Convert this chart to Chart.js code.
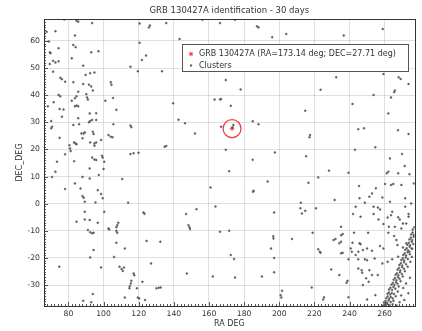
<!DOCTYPE html>
<html>
<head>
<meta charset="utf-8">
<script src="https://cdn.jsdelivr.net/npm/chart.js@4/dist/chart.umd.min.js"></script>
<style>
  html, body { margin: 0; padding: 0; background: #fff; overflow: hidden; }
  canvas { display: block; }
</style>
</head>
<body>
<canvas id="c" width="425" height="331"></canvas>
<script>
// GRB position (degrees)
const grbName = 'GRB 130427A';
const grbRA = 173.14;
const grbDEC = 27.71;

// Axis ranges and tick steps
const raRange = [66.1, 277.1];
const decRange = [-37.7, 68.1];
const raMajorStep = 20;
const decMajorStep = 10;

// Cluster positions [RA, DEC] in degrees
const clustersWest = [
  [77.6,67.9],[84.6,67.5],[85.6,67.1],[93.5,66.6],[67.6,63.4],[72.6,63.6],[83.7,62.0],[68.9,59.8],
  [82.8,58.5],[84.1,57.7],[74.4,57.3],[69.4,55.8],[69.8,55.5],[93.0,55.8],[97.1,56.2],[81.9,53.6],
  [71.3,52.7],[72.6,52.1],[74.4,52.5],[69.4,51.5],[88.4,50.9],[71.3,48.7],[89.8,47.5],[92.4,48.1],
  [94.8,48.4],[75.4,46.4],[76.3,45.9],[78.1,45.0],[82.8,44.8],[88.4,44.1],[91.7,43.9],[93.0,43.2],
  [104.1,44.8],[104.5,43.9],[93.9,41.7],[74.4,40.1],[75.4,39.6],[85.6,41.3],[84.6,39.6],[83.7,38.9],
  [90.2,40.4],[90.6,39.2],[91.1,38.4],[81.9,38.0],[71.6,37.4],[68.3,35.9],[83.7,35.9],[84.6,36.2],
  [85.6,35.9],[75.0,34.9],[77.2,34.7],[92.1,33.3],[95.8,33.4],[101.0,38.0],[105.4,39.0],[107.3,34.6],
  [115.3,50.5],[119.5,48.8],[120.5,59.3],[120.5,66.4],[121.8,53.0],[124.2,54.6],[126.4,65.7],[125.8,65.0],
  [135.7,66.6],[133.3,48.8],
  [76.3,32.1],[85.6,31.5],[91.7,30.0],[92.4,30.5],[93.5,30.9],[95.8,30.9],[82.8,29.0],[86.1,29.3],
  [70.2,30.5],[70.7,28.4],[70.2,27.8],[105.6,29.3],[115.3,28.8],[115.8,28.2],[75.0,24.3],[87.4,25.9],
  [88.7,25.9],[89.3,26.3],[93.9,26.5],[94.3,25.7],[88.0,24.1],[102.8,25.3],[104.1,24.7],[105.1,24.5],
  [83.2,22.6],[84.1,22.2],[84.6,21.9],[92.4,22.6],[94.8,22.2],[95.8,22.6],[94.8,21.4],[98.6,23.5],
  [80.6,21.6],[80.9,20.4],[81.3,19.4],[78.1,18.2],[93.5,17.0],[94.8,16.3],[95.8,16.1],[99.1,17.7],
  [99.5,17.0],[115.3,18.3],[117.1,18.6],[119.9,18.8],[134.8,21.0],[135.7,21.3],[73.5,15.5],[83.3,15.7],
  [100.4,15.5],[100.0,12.8],[92.1,13.0],[72.6,11.8],[70.7,9.9],[88.0,9.9],[92.1,9.3],[97.3,10.6],
  [110.6,9.1],[83.7,7.5],[86.9,5.6],[78.1,5.4],[96.7,5.0],[88.0,2.8],[88.7,2.2],[98.6,3.6],
  [99.5,2.0],[89.3,0.7],[95.4,0.5],[114.0,0.4],[89.3,-3.0],[100.4,-3.0],[122.7,-3.2],[123.3,-3.7],
  [84.6,-6.6],[89.3,-5.8],[92.1,-6.0],[96.7,-7.0],[108.4,-7.0],[107.8,-7.9],[107.3,-8.7],[102.8,-9.1],
  [103.2,-9.5],[91.1,-9.7],[92.4,-10.5],[93.5,-10.9],[94.3,-10.7],[107.3,-10.0],[107.8,-10.7],[124.5,-13.7],
  [132.3,-14.0],[107.3,-14.4],[94.3,-17.1],[112.1,-16.5],[92.4,-19.8],[106.0,-19.6],[74.8,-23.2],[98.6,-23.5],
  [109.1,-23.2],[110.3,-24.1],[111.0,-24.8],[111.6,-23.5],[127.0,-22.0],[117.1,-25.7],[117.5,-26.4],[115.8,-28.4],
  [115.5,-29.4],[114.9,-30.4],[122.1,-28.8],[114.7,-31.2],[119.0,-31.2],[130.1,-31.2],[131.4,-31.0],[132.5,-30.9],
  [93.9,-33.3],[88.4,-35.8],[93.0,-36.3],[112.1,-34.6],[119.5,-34.6],[120.3,-34.9],[123.6,-35.5]
];

const clustersCentral = [
  [156.3,67.8],[166.3,66.6],[174.8,67.8],[187.3,65.4],[188.2,65.0],[196.0,61.4],[204.0,62.6],[143.3,60.7],
  [169.6,45.6],[178.0,42.1],[139.6,37.0],[163.2,38.4],[166.3,38.4],[166.9,38.6],[172.4,36.1],[142.7,31.0],
  [146.4,29.7],[166.9,28.4],[173.9,29.0],[173.4,28.1],[184.9,30.4],[188.2,29.3],[152.0,25.9],[169.6,19.9],
  [197.5,18.9],[184.9,16.2],[171.5,12.0],[193.4,8.2],[160.9,6.0],[185.4,4.8],[185.1,4.4],[163.7,-1.0],
  [152.9,-2.0],[147.0,-3.8],[148.3,-7.9],[148.9,-8.7],[149.2,-9.3],[197.1,-3.2],[166.3,-10.3],[171.5,-10.0],
  [196.6,-12.0],[196.7,-12.8],[207.3,-13.0],[195.3,-16.5],[172.4,-18.9],[174.3,-20.4],[197.1,-20.0],[147.4,-25.7],
  [162.2,-26.8],[174.8,-27.2],[190.1,-26.8],[197.1,-25.3],[201.6,-32.1],[200.8,-33.7],[201.2,-34.6]
];

const clustersEast = [
  [236.7,62.0],[258.9,64.4],[232.4,46.6],[223.5,42.0],[259.3,47.8],[268.0,46.6],[269.1,46.0],[273.6,44.1],
  [265.8,41.7],[265.4,41.1],[253.7,40.1],[263.6,39.2],[241.7,36.8],[214.8,34.3],[262.1,33.3],[245.0,27.5],
  [248.2,27.8],[267.6,27.1],[273.6,25.7],[217.5,25.3],[217.2,24.5],[243.1,19.9],[254.7,20.8],[263.0,16.7],
  [269.9,18.3],[215.3,17.5],
  [228.3,12.2],[239.4,11.4],[222.2,9.7],[216.6,7.7],[262.1,11.8],[261.2,11.2],[271.4,13.9],[267.7,11.2],
  [274.1,10.9],[260.2,7.3],[263.6,6.9],[264.9,7.3],[269.5,6.9],[276.6,7.5],[245.4,6.5],[255.0,5.7],
  [252.8,3.8],[251.3,2.6],[258.7,2.3],[245.7,2.0],[231.5,1.4],[212.3,0.4],[248.7,0.4],[263.0,0.7],
  [271.7,2.0],[275.1,0.1],[212.0,-1.7],[212.9,-3.6],[214.8,-2.6],[220.9,-1.7],[243.5,-1.1],[253.7,-1.1],
  [256.1,-1.4],[257.4,-2.1],[264.3,-3.0],[263.6,-4.2],[271.7,-1.1],[273.6,-3.8],[242.0,-3.8],[246.3,-4.8],
  [253.7,-3.8],[256.5,-5.8],[261.7,-5.1],[267.7,-5.0],[268.6,-5.8],[270.4,-7.3],[272.3,-7.3],[273.6,-4.8],
  [235.2,-8.5],[259.3,-7.5],[262.4,-8.5],[265.8,-8.5],[269.5,-9.1],[219.0,-10.7],[236.1,-11.2],[235.2,-11.6],
  [242.6,-10.7],[250.6,-10.7],[262.1,-10.7],[265.4,-11.9],[266.7,-13.4],[230.9,-13.4],[232.0,-13.0],[234.2,-14.6],
  [235.2,-14.0],[241.7,-14.4],[245.7,-14.6],[246.3,-14.9],[250.0,-16.5],[247.6,-17.1],[245.0,-17.7],[252.8,-17.3],
  [257.4,-15.6],[259.3,-16.5],[267.3,-15.2],[270.4,-16.1],[272.3,-14.6],[222.2,-16.8],[223.1,-17.7],[223.5,-18.1],
  [235.2,-18.3],[236.1,-18.1],[240.7,-16.5],[241.3,-17.7],[243.5,-18.9],[239.4,-20.5],[245.0,-20.5],[248.7,-20.5],
  [250.0,-20.8],[254.3,-20.2],[258.7,-22.0],[261.7,-21.4],[264.3,-20.5],[267.7,-19.5],[229.6,-24.2],[234.2,-26.3],
  [238.9,-28.4],[238.3,-29.1],[245.0,-23.9],[246.9,-24.5],[247.2,-25.4],[251.3,-24.5],[249.5,-27.5],[250.9,-28.8],
  [252.8,-26.3],[256.1,-26.3],[247.6,-30.0],[218.5,-30.9],[225.0,-35.3],[225.5,-34.5],[239.4,-34.5],[250.0,-35.3],
  [254.7,-33.7],[275.4,-16.5],[274.1,-17.7]
];

// Dense group running along the south-east corner
const clustersGalacticBand = [
  [259.0,-37.6],[259.8,-37.2],[260.6,-37.5],[261.5,-37.0],[262.8,-37.4],[264.5,-37.1],[266.8,-37.5],
  [259.6,-36.4],[260.5,-35.9],[261.3,-36.6],[262.2,-35.7],[263.4,-36.2],[265.0,-35.8],[268.5,-36.3],[271.2,-35.5],
  [260.9,-34.8],[261.7,-34.2],[262.6,-35.0],[263.5,-34.4],[264.6,-34.9],[266.3,-34.1],[269.4,-33.8],
  [261.6,-33.2],[262.4,-32.7],[263.2,-33.5],[264.1,-32.9],[265.3,-33.3],[267.5,-32.4],[273.5,-33.0],
  [262.5,-31.6],[263.3,-31.0],[264.2,-31.8],[265.0,-30.7],[266.1,-31.3],[268.0,-30.5],[270.6,-31.1],
  [263.9,-29.8],[264.7,-29.2],[265.5,-30.0],[266.4,-28.9],[267.3,-29.5],[269.1,-28.6],[272.2,-29.4],
  [265.1,-28.0],[265.9,-27.4],[266.7,-28.2],[267.6,-27.1],[268.5,-27.7],[270.3,-26.8],[274.4,-27.3],
  [266.2,-26.2],[267.0,-25.6],[267.8,-26.4],[268.7,-25.3],[269.8,-25.9],[271.5,-24.9],
  [267.3,-24.3],[268.1,-23.7],[268.9,-24.6],[269.9,-23.4],[271.0,-24.0],[273.1,-23.2],
  [268.4,-22.6],[269.2,-21.9],[270.0,-22.8],[271.0,-21.6],[272.2,-22.3],[274.6,-21.4],
  [269.5,-20.7],[270.3,-20.1],[271.1,-20.9],[272.0,-19.8],[273.2,-20.4],[275.5,-19.6],
  [270.6,-18.9],[271.4,-18.3],[272.2,-19.1],[273.1,-17.9],[274.3,-18.6],
  [271.7,-17.0],[272.5,-16.4],[273.3,-17.2],[274.2,-15.9],[275.6,-16.6],
  [272.9,-15.1],[273.7,-14.4],[274.5,-15.3],[275.4,-14.0],[276.3,-14.8],
  [274.1,-13.2],[274.9,-12.5],[275.7,-13.4],[276.5,-12.2],
  [275.1,-11.3],[275.9,-10.6],[276.6,-11.5],
  [276.0,-9.5],[276.8,-8.7]
];

const clusterPoints = clustersWest.concat(clustersCentral, clustersEast, clustersGalacticBand)
  .map(([ra, dec]) => ({ x: ra, y: dec }));

const TEXT = '#333';
const FONT = 'DejaVu Sans';

// Major ticks on round multiples of the step only
function roundTicks(step) {
  return s => {
    const out = [];
    for (let v = Math.ceil(s.min / step) * step; v <= s.max; v += step) out.push({ value: v });
    s.ticks = out;
  };
}

// Frame, minor ticks and the in-plot legend
const framePlugin = {
  id: 'frame',
  afterDraw(chart) {
    const { ctx, chartArea: a, scales: { x, y } } = chart;
    ctx.save();
    ctx.strokeStyle = '#555';
    ctx.lineWidth = 1;
    ctx.beginPath();
    // minor ticks along the DEC axis
    for (let v = Math.ceil(y.min); v <= y.max; v += 1) {
      const py = Math.round(y.getPixelForValue(v)) + 0.5;
      const len = v % decMajorStep === 0 ? 4 : 2;
      ctx.moveTo(a.left, py); ctx.lineTo(a.left + len, py);
    }
    // minor ticks along the RA axis
    for (let v = Math.ceil(x.min / 2) * 2; v <= x.max; v += 2) {
      const px = Math.round(x.getPixelForValue(v)) + 0.5;
      const len = v % raMajorStep === 0 ? 4 : 2;
      ctx.moveTo(px, a.bottom); ctx.lineTo(px, a.bottom - len);
    }
    ctx.stroke();
    ctx.strokeStyle = '#333';
    ctx.strokeRect(Math.round(a.left) + 0.5, Math.round(a.top) + 0.5,
                   Math.round(a.right - a.left), Math.round(a.bottom - a.top));

    // legend
    const lx = a.left + 138.5, ly = a.top + 25.5, lw = 226, lh = 27;
    ctx.fillStyle = 'rgba(255,255,255,0.95)';
    ctx.fillRect(lx, ly, lw, lh);
    ctx.strokeStyle = '#555';
    ctx.strokeRect(lx, ly, lw, lh);
    const items = [chart.data.datasets[1], chart.data.datasets[0]];
    ctx.font = '8px "' + FONT + '"';
    ctx.textBaseline = 'middle';
    items.forEach((ds, i) => {
      const cy = ly + 9.5 + i * 11.5;
      ctx.fillStyle = ds.pointBackgroundColor;
      ctx.strokeStyle = ds.pointBorderColor;
      ctx.lineWidth = ds.borderWidth;
      Chart.helpers.drawPoint(ctx, {
        pointStyle: ds.pointStyle, radius: ds.pointRadius, rotation: 0,
        borderWidth: ds.borderWidth
      }, lx + 8.5, cy);
      ctx.fillStyle = TEXT;
      ctx.fillText(ds.label, lx + 16.5, cy);
    });
    ctx.restore();
  }
};

new Chart(document.getElementById('c'), {
  type: 'scatter',
  data: {
    datasets: [
      {
        label: 'Clusters',
        data: clusterPoints,
        pointStyle: 'circle',
        pointRadius: 1,
        pointBackgroundColor: '#5a5a5a',
        pointBorderColor: '#5a5a5a',
        borderWidth: 0.4,
        order: 0
      },
      {
        label: grbName + ' (RA=' + grbRA.toFixed(2) + ' deg; DEC=' + grbDEC.toFixed(2) + ' deg)',
        data: [{ x: grbRA, y: grbDEC }],
        pointStyle: 'star',
        pointRadius: 2.2,
        pointBackgroundColor: '#ff3b3b',
        pointBorderColor: '#ff3b3b',
        borderWidth: 1,
        order: 1
      },
      {
        label: 'GRB region',
        data: [{ x: grbRA, y: grbDEC }],
        pointStyle: 'circle',
        pointRadius: 9,
        pointBackgroundColor: 'rgba(0,0,0,0)',
        pointBorderColor: '#f04040',
        borderWidth: 1.3,
        order: 2
      }
    ]
  },
  options: {
    responsive: false,
    animation: false,
    events: [],
    layout: { padding: { top: 0, right: 2, left: 0, bottom: 0 } },
    plugins: {
      legend: { display: false },
      tooltip: { enabled: false },
      title: {
        display: true,
        fullSize: false,
        text: grbName + ' identification - 30 days',
        color: TEXT,
        font: { family: FONT, size: 8.5, weight: 'normal' },
        padding: { top: 6, bottom: 2.8 }
      }
    },
    scales: {
      x: {
        type: 'linear',
        min: raRange[0],
        max: raRange[1],
        ticks: {
          color: TEXT,
          padding: 3,
          autoSkip: false,
          font: { family: FONT, size: 7.7 }
        },
        afterBuildTicks: roundTicks(raMajorStep),
        afterFit: s => { s.height = 25; },
        grid: { color: 'rgba(0,0,0,0.12)', lineWidth: 1, drawTicks: false },
        border: { display: false },
        title: {
          display: true, text: 'RA DEG', color: TEXT,
          font: { family: FONT, size: 8 },
          padding: { top: 0, bottom: 2 }
        }
      },
      y: {
        type: 'linear',
        min: decRange[0],
        max: decRange[1],
        ticks: {
          color: TEXT,
          padding: 4,
          autoSkip: false,
          font: { family: FONT, size: 7.7 }
        },
        afterBuildTicks: roundTicks(decMajorStep),
        afterFit: s => { s.width = 44; },
        grid: { color: 'rgba(0,0,0,0.12)', lineWidth: 1, drawTicks: false },
        border: { display: false },
        title: {
          display: true, text: 'DEC_DEG', color: TEXT,
          font: { family: FONT, size: 8 },
          padding: { top: 15, bottom: 0 }
        }
      }
    }
  },
  plugins: [framePlugin]
});
</script>
</body>
</html>
